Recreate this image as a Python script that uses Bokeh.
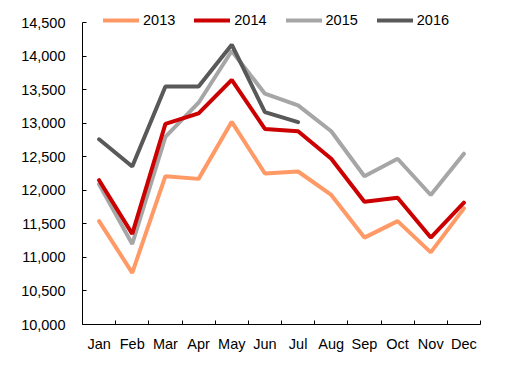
from bokeh.plotting import figure
from bokeh.models import FixedTicker, Legend, LegendItem, Range1d, NumeralTickFormatter
from bokeh.embed import file_html
from bokeh.resources import INLINE

months = ["Jan", "Feb", "Mar", "Apr", "May", "Jun", "Jul", "Aug", "Sep", "Oct", "Nov", "Dec"]
y2013 = [11540, 10770, 12210, 12170, 13020, 12250, 12280, 11930, 11295, 11540, 11075, 11730]
y2014 = [12150, 11350, 12990, 13145, 13645, 12915, 12880, 12470, 11830, 11890, 11295, 11815]
y2015 = [12090, 11200, 12795, 13305, 14075, 13440, 13265, 12880, 12210, 12470, 11930, 12545]
y2016 = [12760, 12355, 13545, 13545, 14170, 13165, 13015]
yticks = [10000, 10500, 11000, 11500, 12000, 12500, 13000, 13500, 14000, 14500]

FONT = "Liberation Sans"
FS = "14.5px"

p = figure(width=515, height=366, output_backend="svg", toolbar_location=None,
           x_range=Range1d(0.5, 12.5), y_range=Range1d(10000, 14694),
           min_border_left=82, min_border_right=35, min_border_top=9, min_border_bottom=42)
p.outline_line_color = None
p.xgrid.grid_line_color = None
p.ygrid.grid_line_color = None

xs = list(range(1, 13))
r13 = p.line(xs, y2013, line_color="#FF9966", line_width=4, line_cap="round")
r15 = p.line(xs, y2015, line_color="#A6A6A6", line_width=4, line_cap="round")
r14 = p.line(xs, y2014, line_color="#CC0000", line_width=4, line_cap="round")
r16 = p.line(xs[:len(y2016)], y2016, line_color="#595959", line_width=4, line_cap="round")

# x axis
p.xaxis.ticker = FixedTicker(ticks=xs, minor_ticks=[i + 0.5 for i in range(0, 13)])
p.xaxis.major_label_overrides = {i + 1: m for i, m in enumerate(months)}
p.xaxis.major_tick_line_color = None
p.xaxis.minor_tick_in = 4
p.xaxis.minor_tick_out = 0
p.xaxis.minor_tick_line_color = "black"
p.xaxis.axis_line_color = "black"
p.xaxis.major_label_standoff = 5
p.xaxis.major_label_text_font = FONT
p.xaxis.major_label_text_font_size = FS
p.xaxis.major_label_text_color = "black"

# y axis
p.yaxis.ticker = FixedTicker(ticks=yticks, minor_ticks=[])
p.yaxis.bounds = (10000, 14500)
p.yaxis.formatter = NumeralTickFormatter(format="0,0")
p.yaxis.major_tick_in = 4
p.yaxis.major_tick_out = 0
p.yaxis.major_tick_line_color = "black"
p.yaxis.axis_line_color = "black"
p.yaxis.major_label_standoff = 17
p.yaxis.major_label_text_font = FONT
p.yaxis.major_label_text_font_size = FS
p.yaxis.major_label_text_color = "black"

legend = Legend(items=[LegendItem(label="2013", renderers=[r13]),
                       LegendItem(label="2014", renderers=[r14]),
                       LegendItem(label="2015", renderers=[r15]),
                       LegendItem(label="2016", renderers=[r16])],
                orientation="horizontal", location=(21, 294),
                glyph_width=36, glyph_height=20, label_standoff=4, spacing=19,
                padding=0, margin=0, border_line_color=None, background_fill_alpha=0,
                label_text_font=FONT, label_text_font_size=FS, label_text_color="black")
p.add_layout(legend, "center")

open("out.html", "w").write(file_html(p, INLINE))
